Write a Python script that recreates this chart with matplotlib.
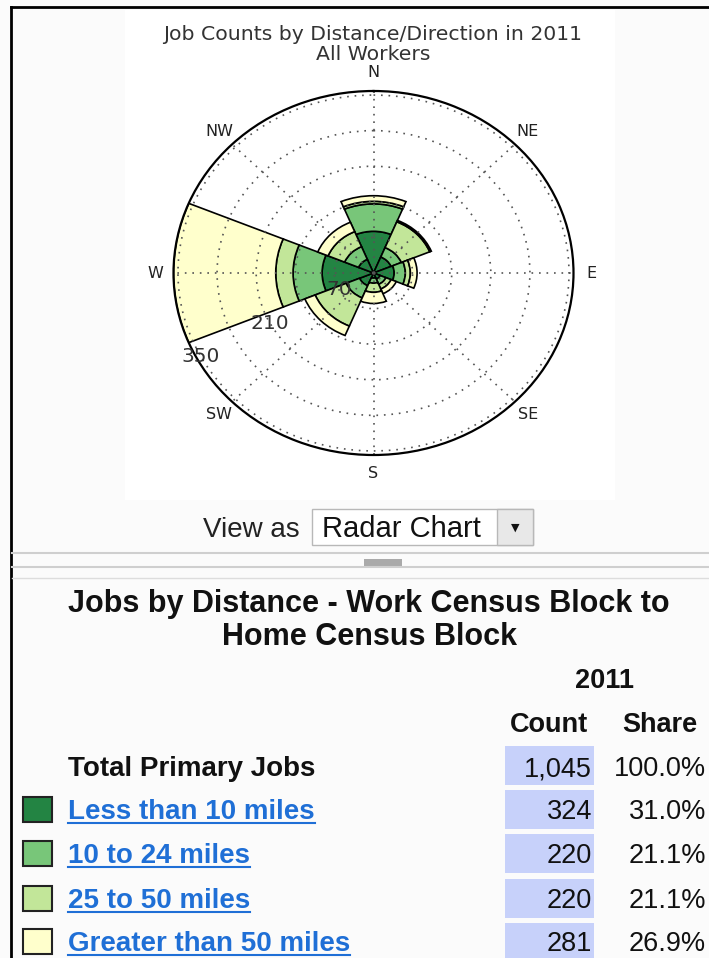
import numpy as np
import matplotlib.pyplot as plt
from matplotlib.patches import Rectangle
from matplotlib.lines import Line2D

# jobs by direction, stacked by distance band
directions = ['N', 'NE', 'E', 'SE', 'S', 'SW', 'W', 'NW']
less_10 = [82, 34, 37, 13, 10, 27, 92, 29]
from_10_24 = [54, 20, 20, 11, 10, 26, 52, 27]
from_25_50 = [5, 55, 9, 10, 18, 60, 31, 32]
over_50 = [11, 3, 12, 10, 22, 20, 183, 20]

r_ticks = [70, 140, 210, 280, 350]
r_tick_labels = ['70', '', '210', '', '350']

# table below the chart
total_label = 'Total Primary Jobs'
total_count = '1,045'
total_share = '100.0%'
row_labels = ['Less than 10 miles', '10 to 24 miles', '25 to 50 miles', 'Greater than 50 miles']
row_counts = ['324', '220', '220', '281']
row_shares = ['31.0%', '21.1%', '21.1%', '26.9%']

colors = ['#238443', '#78c679', '#c2e699', '#ffffcc']

W, H = 709, 958
fig = plt.figure(figsize=(W / 100, H / 100), dpi=100, facecolor='#fbfbfb')


def fx(x):
    return x / W


def fy(y):
    return 1 - y / H


def box(x0, y0, x1, y1, **kw):
    r = Rectangle((fx(x0), fy(y1)), (x1 - x0) / W, (y1 - y0) / H,
                  transform=fig.transFigure, **kw)
    fig.add_artist(r)
    return r


def hline(x0, x1, y, **kw):
    fig.add_artist(Line2D([fx(x0), fx(x1)], [fy(y), fy(y)], transform=fig.transFigure, **kw))


# chart image background
box(125, 10, 615, 500, facecolor='white', edgecolor='none', zorder=0)

# frame
hline(11, 709, 7, color='black', lw=2)
fig.add_artist(Line2D([fx(11), fx(11)], [fy(7), 0], transform=fig.transFigure, color='black', lw=2))

# polar chart
ax = fig.add_axes([fx(173.5), fy(455), 400 / W, 364 / H], projection='polar')
ax.set_aspect('auto')
ax.set_theta_zero_location('N')
ax.set_theta_direction(-1)
theta = np.deg2rad(np.arange(0, 360, 45))
bottom = np.zeros(len(directions))
for vals, c in zip([less_10, from_10_24, from_25_50, over_50], colors):
    ax.bar(theta, vals, width=np.deg2rad(45), bottom=bottom.copy(), color=c,
           edgecolor='black', linewidth=1.2)
    bottom += np.array(vals)
ax.set_ylim(0, bottom.max())
ax.set_yticks(r_ticks)
ax.set_yticklabels([])
label_angle = np.deg2rad(242)
for r, lab in zip(r_ticks, r_tick_labels):
    if lab:
        ax.text(label_angle, r, lab, ha='center', va='center', fontsize=14.5, color='#333', zorder=5)
ax.set_xticks(theta)
ax.set_xticklabels(directions, fontsize=11.5, color='#222')
ax.tick_params(axis='x', pad=2.5)
ax.grid(True, linestyle=(0, (1, 3.5)), color='#555', linewidth=1.2)
ax.spines['polar'].set_linewidth(1.6)

fig.text(fx(373), fy(35), 'Job Counts by Distance/Direction in 2011', ha='center', va='center',
         fontsize=14.7, color='#333')
fig.text(fx(373), fy(55), 'All Workers', ha='center', va='center', fontsize=14.7, color='#333')

# view as selector
sans = 'Liberation Sans'
fig.text(fx(300), fy(537), 'View as', ha='right', va='baseline', fontsize=20, family=sans, color='#222')
box(312, 509, 533, 545, facecolor='white', edgecolor='#b8b8b8', lw=1)
box(497, 509, 533, 545, facecolor='#e8e8e8', edgecolor='#b8b8b8', lw=1)
fig.text(fx(322), fy(537), 'Radar Chart', ha='left', va='baseline', fontsize=21, family=sans, color='#111')
fig.text(fx(515), fy(528), '\u25bc', ha='center', va='center', fontsize=8, color='#111')

hline(12, 709, 553, color='#cfcfcf', lw=1.5)
hline(12, 709, 567, color='#cfcfcf', lw=1.5)
hline(12, 709, 578, color='#dddddd', lw=1)
box(364, 559, 402, 566, facecolor='#aaaaaa', edgecolor='none')

# table
fig.text(fx(369), fy(612), 'Jobs by Distance - Work Census Block to', ha='center', va='baseline',
         fontsize=22, weight='bold', family=sans, color='#111')
fig.text(fx(369), fy(645), 'Home Census Block', ha='center', va='baseline',
         fontsize=22, weight='bold', family=sans, color='#111')
fig.text(fx(605), fy(688), '2011', ha='center', va='baseline', fontsize=19.5, weight='bold',
         family=sans, color='#111')
fig.text(fx(549), fy(732), 'Count', ha='center', va='baseline', fontsize=19.5, weight='bold',
         family=sans, color='#111')
fig.text(fx(660), fy(732), 'Share', ha='center', va='baseline', fontsize=19.5, weight='bold',
         family=sans, color='#111')

cell_tops = [746, 790, 834, 879, 923]
baselines = [776, 819, 863, 908, 951]
for top in cell_tops:
    box(505, top, 594, min(top + 39, 958), facecolor='#c7d1fa', edgecolor='none')

fig.text(fx(68), fy(baselines[0]), total_label, ha='left', va='baseline', fontsize=20,
         weight='bold', family=sans, color='#111')
fig.text(fx(592), fy(baselines[0]), total_count, ha='right', va='baseline', fontsize=19.5,
         family=sans, color='#111')
fig.text(fx(706), fy(baselines[0]), total_share, ha='right', va='baseline', fontsize=19.5,
         family=sans, color='#111')

links = []
for i, (lab, cnt, shr, c) in enumerate(zip(row_labels, row_counts, row_shares, colors)):
    b = baselines[i + 1]
    box(23, b - 22, 52, b + 3, facecolor=c, edgecolor='#222', lw=1.5)
    t = fig.text(fx(68), fy(b), lab, ha='left', va='baseline', fontsize=20, weight='bold',
                 family=sans, color='#1f6fd6')
    links.append((t, b))
    fig.text(fx(592), fy(b), cnt, ha='right', va='baseline', fontsize=19.5, family=sans, color='#111')
    fig.text(fx(706), fy(b), shr, ha='right', va='baseline', fontsize=19.5, family=sans, color='#111')

fig.canvas.draw()
renderer = fig.canvas.get_renderer()
for t, b in links:
    bb = t.get_window_extent(renderer)
    hline(bb.x0, bb.x1, b + 4, color='#1f6fd6', lw=1.5)

fig.savefig('out.png', dpi=100, facecolor=fig.get_facecolor())
